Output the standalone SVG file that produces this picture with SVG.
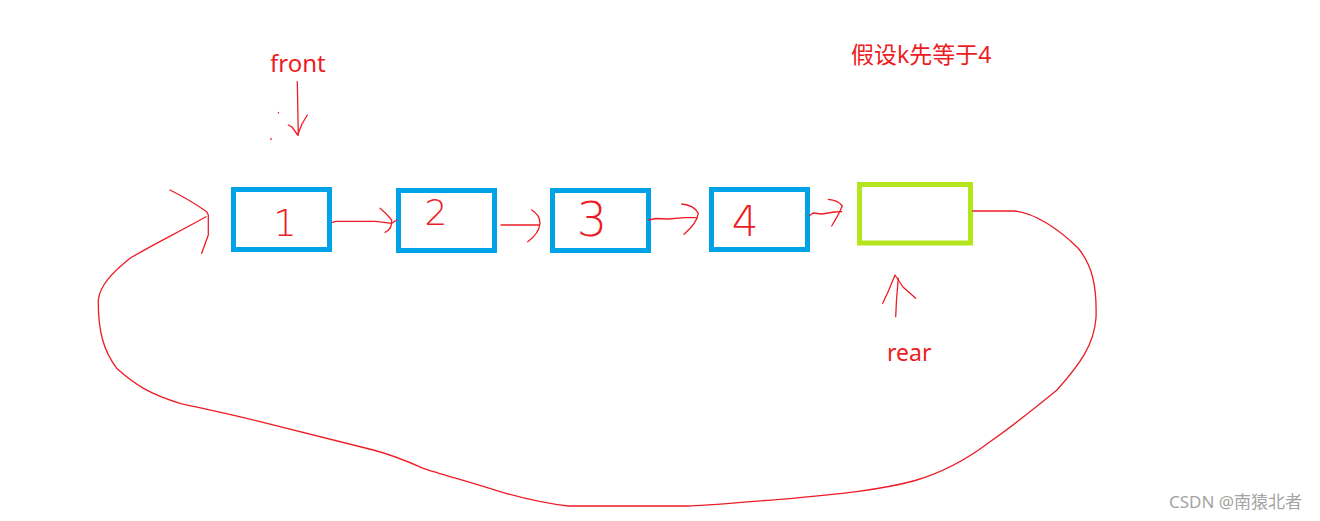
<svg xmlns="http://www.w3.org/2000/svg" width="1320" height="521" viewBox="0 0 1320 521">
<style>
.bg{fill:#ffffff}
.blue{fill:none;stroke:#00a2e8;stroke-width:5}
.green{fill:none;stroke:#b5e61d;stroke-width:5}
.ink{fill:none;stroke:#ed1c24;stroke-width:1.3;stroke-linecap:round;stroke-linejoin:round}
.lbl{font-family:"Noto Sans","Noto Sans CJK SC",sans-serif;fill:#ed1c24}
.digit{font-family:"DejaVu Sans","Noto Sans",sans-serif;font-weight:200;fill:#ed1c24;text-anchor:middle}
.wm{font-family:"Noto Sans","Noto Sans CJK SC",sans-serif;fill:#a3a3a3;font-size:17px}
</style>
<rect class="bg" x="0" y="0" width="1320" height="521"/>

<g id="node1">
<rect class="blue" x="233.5" y="189.5" width="96" height="60"/>
<text class="digit" x="285" y="236" font-size="37">1</text>
</g>
<g id="node2">
<rect class="blue" x="398.5" y="190.5" width="96" height="60"/>
<text class="digit" x="436" y="225" font-size="36">2</text>
</g>
<g id="node3">
<rect class="blue" x="552.5" y="190.5" width="96" height="60"/>
<text class="digit" x="592" y="236" font-size="48">3</text>
</g>
<g id="node4">
<rect class="blue" x="711.5" y="189.5" width="96" height="60"/>
<text class="digit" x="745" y="236" font-size="42">4</text>
</g>
<g id="node5">
<rect class="green" x="859.5" y="184.5" width="111" height="58.5"/>
</g>

<g id="labels">
<text class="lbl" x="270" y="72" font-size="24">front</text>
<text class="lbl" x="887" y="361" font-size="23">rear</text>
<text class="lbl" x="851" y="63" font-size="23">假设k先等于4</text>
</g>

<g id="connectors">
<!-- front pointer -->
<path class="ink" d="M297.3 81.7 L298.3 135"/>
<path class="ink" d="M288.3 125 L292 127 L297.7 135 L302 124 L307.3 115"/>
<path class="ink" d="M278.3 112.5 l0.3 0.5 M271 138.5 l0 1"/>
<!-- rear pointer -->
<path class="ink" d="M895.7 316.7 L896.5 300 L898.3 278.3"/>
<path class="ink" d="M882.7 303.3 L888 292 L895 275 L903 287 L915.7 298.3"/>
<!-- 1 -> 2 -->
<path class="ink" d="M332.3 222.3 L336 221.3 L376 221.3 L391.7 223.3 L396.7 220"/>
<path class="ink" d="M380 208.3 Q386 213 391.7 220 Q392.5 229 385 232.3"/>
<!-- 2 -> 3 -->
<path class="ink" d="M501 225 L539.3 225"/>
<path class="ink" d="M531.7 210 Q540 215 540 223.3 Q539 234 527.7 241.7"/>
<!-- 3 -> 4 -->
<path class="ink" d="M648.3 220 L656 218.5 L668 219 L685 217.7 L696.7 217.7"/>
<path class="ink" d="M681.7 204 Q694 205 698.3 213.3 Q697 223 684 234.3"/>
<!-- 4 -> 5 -->
<path class="ink" d="M809.3 215.7 L813 213 L822 214 L834 212 L841.7 211.7"/>
<path class="ink" d="M828.3 199.3 Q838 200 842.3 206 Q839 214 831.7 226"/>
<!-- wrap-around from rear back to front -->
<path class="ink" d="M972.7 211 L1015 211 C1035 213 1060 230 1078 248 C1092 265 1097 285 1096 318 C1094 345 1080 364 1057 390 C1035 408 1010 428 990 441.7 C970 457 945 472 913.3 481 C880 490 840 494 780 499.3 C730 503.3 700 506 688.3 506 L568.3 506 C540 503 515 496 500 491.7 C470 482 440 474 423.3 468.3 C400 458 385 453 373.3 450 C340 442 300 432 260 421.7 C230 414 200 408 180 403.3 C150 394 135 385 116.7 368.3 C103 350 98 330 98.3 300 C100 285 112 273 130 258.3 C150 246 175 234 206 216.7"/>
<path class="ink" d="M170 190 Q190 200 206.7 211.7 L208.3 215 L208.3 235 L201.7 253.3"/>
</g>

<text class="wm" x="1169" y="508">CSDN @南猿北者</text>
</svg>
